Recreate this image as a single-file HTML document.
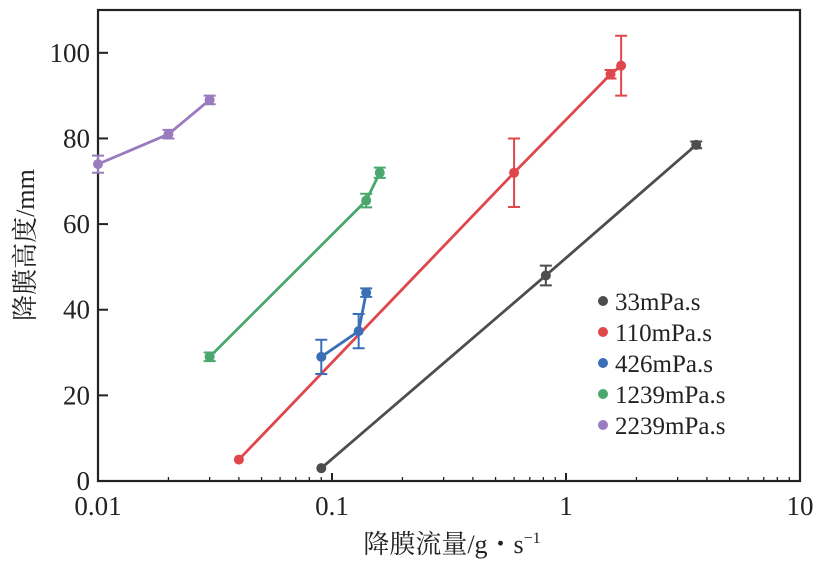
<!DOCTYPE html>
<html><head><meta charset="utf-8"><style>
body{margin:0;background:#fff}
svg text{font-family:"Liberation Serif","Times New Roman",Times,serif;fill:#222}
svg text.cjk{font-family:"Liberation Serif","Times New Roman","Noto Serif CJK SC",serif}
</style></head><body>
<svg width="824" height="565" id="c"></svg>
<script>
const seriesNames=["33mPa.s","110mPa.s","426mPa.s","1239mPa.s","2239mPa.s"];
const colors=["#4d4d4d","#e0474c","#3a6fb8","#4aa86f","#9b7bbf"];
const xs33=[0.09,0.82,3.6], ys33=[3,48,78.5], es33=[0,2.3,0.8];
const xs110=[0.04,0.6,1.55,1.72], ys110=[5,72,95,97], es110=[0,8,1,7];
const xs426=[0.09,0.13,0.14], ys426=[29,35,44], es426=[4,4,1];
const xs1239=[0.03,0.14,0.16], ys1239=[29,65.5,72], es1239=[1,1.6,1.2];
const xs2239=[0.01,0.02,0.03], ys2239=[74,81,89], es2239=[2,1,1];
const xTicks=[0.01,0.1,1,10], xTickLabels=["0.01","0.1","1","10"];
const yTicks=[0,20,40,60,80,100];
const L=98,R=800,T=10,B=481;
const X=v=>L+(Math.log10(v)+2)/3*(R-L);
const Y=v=>B-v/110*(B-T);
const svg=document.getElementById('c');const NS="http://www.w3.org/2000/svg";
function el(t,a,p){const e=document.createElementNS(NS,t);for(const k in a)e.setAttribute(k,a[k]);(p||svg).appendChild(e);return e;}
const frame=el('rect',{x:L,y:T,width:R-L,height:B-T,fill:'none',stroke:'#222','stroke-width':2.2});


for(let d=-2;d<1;d++)for(let m=2;m<10;m++){const x=X(m*Math.pow(10,d));const t=el('line',{x1:x,x2:x,y1:B,y2:B-4,stroke:'#222','stroke-width':1.3});}
xTicks.forEach((v,i)=>{const x=X(v);const t=el('line',{x1:x,x2:x,y1:B,y2:B-8,stroke:'#222','stroke-width':2});
const s=el('text',{x:x,y:B+34,'text-anchor':'middle','font-size':27});s.textContent=xTickLabels[i];});
yTicks.forEach(v=>{const y=Y(v);const t=el('line',{x1:L,x2:L+10,y1:y,y2:y,stroke:'#222','stroke-width':2});
const s=el('text',{x:L-8,y:y+9,'text-anchor':'end','font-size':27});s.textContent=v;});
const xt=el('text',{x:452,y:553,'text-anchor':'middle','font-size':26,'class':'cjk'});xt.innerHTML='降膜流量/g・s<tspan dy="-10" font-size="16">−1</tspan>';

const yt=el('text',{x:0,y:0,'text-anchor':'middle','font-size':26,'class':'cjk',transform:'translate(34,245) rotate(-90)'});yt.textContent='降膜高度/mm';

const data=[[xs33,ys33,es33],[xs110,ys110,es110],[xs426,ys426,es426],[xs1239,ys1239,es1239],[xs2239,ys2239,es2239]];
data.forEach(([xs,ys,es],k)=>{const c=colors[k];
const pl=el('polyline',{points:xs.map((x,i)=>X(x)+','+Y(ys[i])).join(' '),fill:'none',stroke:c,'stroke-width':2.8});

xs.forEach((x,i)=>{const px=X(x);if(es[i]>0){const g=el('path',{d:`M${px},${Y(ys[i]-es[i])}V${Y(ys[i]+es[i])}M${px-6},${Y(ys[i]-es[i])}h12M${px-6},${Y(ys[i]+es[i])}h12`,stroke:c,'stroke-width':2,fill:'none'});}
const p=el('circle',{cx:px,cy:Y(ys[i]),r:5,fill:c});});
const ly=301+k*31;const d=el('circle',{cx:603,cy:ly,r:5,fill:c});
const lt=el('text',{x:615,y:ly+9,'font-size':25});lt.textContent=seriesNames[k];});
</script>
</body></html>
